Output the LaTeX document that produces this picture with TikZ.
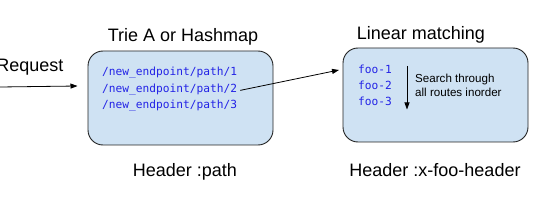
\documentclass[tikz,border=0pt]{standalone}
\usepackage{fontspec}
\setmainfont{Liberation Sans}
\newfontfamily\monof{DejaVu Sans Mono}
\usetikzlibrary{arrows.meta}
\definecolor{boxfill}{HTML}{CFE2F3}
\definecolor{codeblue}{HTML}{2323E6}
\definecolor{edge}{HTML}{222222}
\tikzset{
  panel/.style={draw=edge, line width=0.9pt, fill=boxfill, rounded corners=15pt},
  title/.style={font=\fontsize{18}{20}\selectfont, anchor=base, inner sep=0pt},
  code/.style={font=\monof\fontsize{11.2}{13}\selectfont, text=codeblue, anchor=base west, inner sep=0pt},
  note/.style={font=\fontsize{11.6}{13.7}\selectfont, anchor=base west, inner sep=0pt},
  conn/.style={draw=black, line width=0.8pt, -{Triangle[length=7pt,width=5pt]}}
}
\begin{document}
\begin{tikzpicture}[x=1pt,y=-1pt]
\useasboundingbox (0,0) rectangle (554,203);
% boxes
\draw[panel] (88,51) rectangle (273,145);
\node[inner sep=0pt] (boxA) at (180.5,98) {};
\draw[panel] (343,48) rectangle (528,142);
\node[inner sep=0pt] (boxB) at (435.5,95) {};
% titles
\node[title] (tA) at (183,41.7) {Trie A or Hashmap};
\node[title] (tB) at (421,39.3) {Linear matching};
\node[title] (hA) at (185,176.7) {Header :path};
\node[title] (hB) at (435,176.7) {Header :x-foo-header};
\node[title, anchor=base east] (req) at (63.5,71.7) {Request};
% code lines
\node[code] (p1) at (102,76) {/new\_endpoint/path/1};
\node[code] (p2) at (102,92.3) {/new\_endpoint/path/2};
\node[code] (p3) at (102,108.6) {/new\_endpoint/path/3};
\node[code] (f1) at (358,73.5) {foo-1};
\node[code] (f2) at (358,89.5) {foo-2};
\node[code] (f3) at (358,105.5) {foo-3};
\node[note] (n1) at (415,83) {Search through};
\node[note] (n2) at (415,96.7) {all routes inorder};
% connectors
\coordinate (rs) at (0,87);
\coordinate (re) at (77.5,86);
\draw[conn] (rs) -- (re);
\coordinate (be) at (339,70);
\draw[conn] ([xshift=3pt,yshift=-1pt]p2.east) -- (be);
\coordinate (vs) at (407,66);
\coordinate (ve) at (407,109.5);
\draw[conn] (vs) -- (ve);
\end{tikzpicture}
\end{document}
